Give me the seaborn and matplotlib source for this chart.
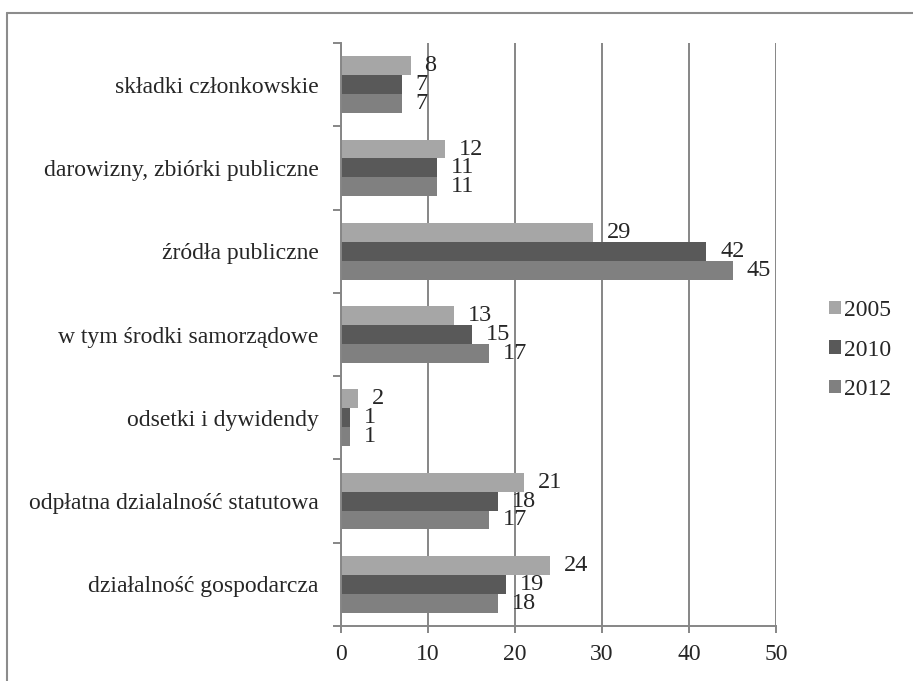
import pandas as pd
import seaborn as sns
import matplotlib.pyplot as plt
from matplotlib.lines import Line2D

categories = ['składki członkowskie', 'darowizny, zbiórki publiczne', 'źródła publiczne',
              'w tym środki samorządowe', 'odsetki i dywidendy',
              'odpłatna dzialalność statutowa', 'działalność gospodarcza']
years = ['2005', '2010', '2012']
v2005 = [8, 12, 29, 13, 2, 21, 24]
v2010 = [7, 11, 42, 15, 1, 18, 19]
v2012 = [7, 11, 45, 17, 1, 17, 18]

df = pd.DataFrame({'kategoria': categories * 3,
                   'rok': ['2005'] * 7 + ['2010'] * 7 + ['2012'] * 7,
                   'wartosc': v2005 + v2010 + v2012})

sns.set_style('white')
plt.rcParams['font.family'] = ['Liberation Serif', 'DejaVu Serif']
plt.rcParams['font.size'] = 17

grid_c = '#868686'
fig = plt.figure(figsize=(9.13, 6.81), dpi=100)
ax = fig.add_axes([341 / 913, 1 - 626 / 681, (776 - 341) / 913, (626 - 43) / 681])

sns.barplot(data=df, x='wartosc', y='kategoria', hue='rok', order=categories, hue_order=years,
            palette=['#a6a6a6', '#595959', '#808080'], width=0.68, saturation=1,
            linewidth=0, ax=ax)

for c in ax.containers:
    ax.bar_label(c, padding=10, fontsize=17.5)

ax.set_xlim(0, 50)
ax.set_ylim(6.5, -0.5)
ax.set_xticks(range(0, 51, 10))
ax.set_yticks(range(7))
ax.set_yticklabels(categories)
ax.set_yticks([i - 0.5 for i in range(8)], minor=True)
ax.tick_params(axis='y', which='major', length=0, pad=16, labelsize=17)
ax.tick_params(axis='y', which='minor', length=6, width=1.4, color=grid_c, left=True)
ax.tick_params(axis='x', length=5, width=1.4, color=grid_c, pad=8, labelsize=17, bottom=True)
ax.set_xlabel('')
ax.set_ylabel('')
ax.grid(axis='x', color=grid_c, linewidth=1.4)
ax.set_axisbelow(True)
for s in ['top', 'right']:
    ax.spines[s].set_visible(False)
for s in ['left', 'bottom']:
    ax.spines[s].set_color(grid_c)
    ax.spines[s].set_linewidth(1.4)

ax.legend(loc='center left', bbox_to_anchor=(829 / 913, 1 - 350 / 681), bbox_transform=fig.transFigure,
          frameon=False, handlelength=0.5, handleheight=0.5, handletextpad=0.15,
          labelspacing=0.78, borderpad=0, borderaxespad=0, fontsize=17)

# ramka
fig.add_artist(Line2D([7 / 913, 7 / 913], [0, 1 - 13 / 681], color='#8c8c8c', linewidth=1.5))
fig.add_artist(Line2D([7 / 913, 1], [1 - 13 / 681, 1 - 13 / 681], color='#8c8c8c', linewidth=1.5))

plt.savefig('out.png', dpi=100)
